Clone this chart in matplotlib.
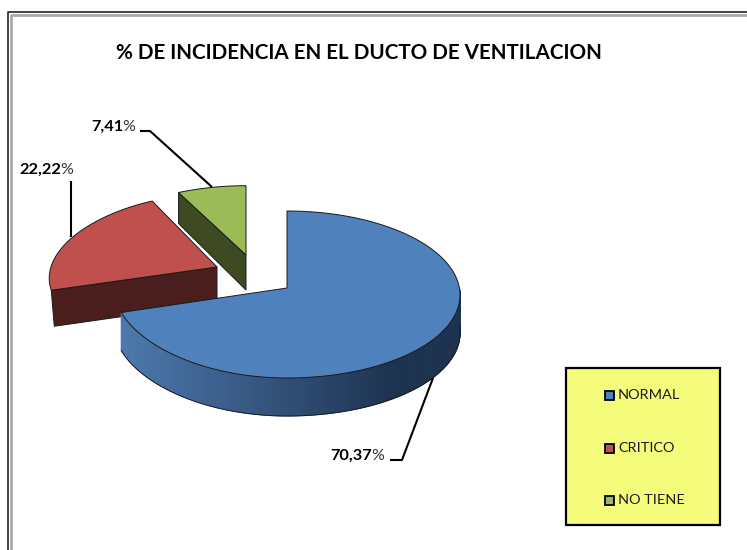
import numpy as np
import matplotlib
matplotlib.use('Agg')
import matplotlib.pyplot as plt
from matplotlib.colors import to_rgb
from matplotlib.patches import Polygon, Rectangle

# Chart data
categories = ['NORMAL', 'CRITICO', 'NO TIENE']
values = [70.37, 22.22, 7.41]
title = '% DE INCIDENCIA EN EL DUCTO DE VENTILACION'

top_colors = ['#4f81bd', '#c0504d', '#9bbb59']
cut_colors = ['#4f81bd', '#4a1e1c', '#3d4a22']

# Pie geometry in pixels
apex = [(287, 288), (217, 267), (246, 255)]
scale_y = [1.0, 0.95, 0.9]
scale_x = [1.0, 1.0, 1.04]
depth = [38, 36, 35]
RX, RY, PERSP = 173, 83.5, 6.5


def rim(theta, i):
    # point on the tilted pie edge, theta clockwise from the top
    c, s = np.cos(theta), np.sin(theta)
    narrow = np.where(s < 0, 1 - 0.14 * np.maximum(c + 0.287, 0), 1.0)
    x = RX * s * narrow * scale_x[i]
    y = (-RY * c + PERSP * c ** 2 + 7 * np.maximum(s, 0) ** 2) * scale_y[i]
    return apex[i][0] + x, apex[i][1] + y


def mix(a, b, t):
    return tuple((1 - t) * np.array(to_rgb(a)) + t * np.array(to_rgb(b)))


fig = plt.figure(figsize=(7.47, 5.5), dpi=100)
ax = fig.add_axes([0, 0, 1, 1])
ax.set_xlim(0, 747)
ax.set_ylim(550, 0)
ax.axis('off')
plt.rcParams['font.family'] = ['Lato', 'DejaVu Sans']

# Window frame
ax.plot([8, 8, 747], [550, 12, 12], color='#222222', lw=1.2, zorder=1)
ax.plot([10.5, 10.5, 747], [550, 14.5, 14.5], color='#aaaaaa', lw=2, zorder=1)

edges = np.cumsum([0] + values) / sum(values) * 2 * np.pi
EDGE = dict(edgecolor='#1a1a1a', linewidth=0.7)

# Slices back to front so the big one overlaps the others
for i in [2, 1, 0]:
    a0, a1 = edges[i], edges[i + 1]
    ax_, ay_ = apex[i]
    z = 5 + (2 - i) * 3
    arc = np.linspace(a0, a1, 200)
    xs, ys = rim(arc, i)

    if i == 0:
        # outer wall with the dark-to-light shading
        th = np.linspace(np.radians(85), a1, 160)
        wx, wy = rim(th, i)
        for k in range(len(th) - 1):
            t = np.clip((wx[k] - 125) / 270, 0, 1)
            col = mix('#4d78ad', '#1d3350', t)
            ax.add_patch(Polygon([(wx[k], wy[k]), (wx[k + 1], wy[k + 1]),
                                  (wx[k + 1], wy[k + 1] + depth[i]), (wx[k], wy[k] + depth[i])],
                                 facecolor=col, edgecolor=col, linewidth=0.8, zorder=z))
        ax.plot(wx, wy + depth[i], color='#1a1a1a', lw=0.6, zorder=z)
    elif i == 1:
        # cut face at the front of the red slice
        ax.add_patch(Polygon([(xs[0], ys[0]), (ax_, ay_), (ax_, ay_ + depth[i]),
                              (xs[0] + 3, ys[0] + depth[i])],
                             facecolor=cut_colors[i], zorder=z, **EDGE))
    else:
        # cut face under the green slice
        ax.add_patch(Polygon([(xs[0], ys[0]), (ax_, ay_), (ax_, ay_ + depth[i]),
                              (xs[0], ys[0] + depth[i] - 4)],
                             facecolor=cut_colors[i], zorder=z, **EDGE))

    ax.add_patch(Polygon(np.r_[[(ax_, ay_)], np.c_[xs, ys]], closed=True,
                         facecolor=top_colors[i], zorder=z + 1, **EDGE))

# Leader lines and value labels
leaders = [([390, 402, 433], [460, 460, 378]),
           ([71, 71], [181, 237]),
           ([140, 150, 212], [131, 131, 187])]
label_end = [(384, 456), (73, 170), (135, 127)]
for i, v in enumerate(values):
    ax.plot(leaders[i][0], leaders[i][1], color='black', lw=1.5, zorder=20, solid_capstyle='butt')
    tx, ty = label_end[i]
    ax.text(tx, ty, '%', ha='right', va='center', fontsize=11.5, color='#333333', zorder=21)
    ax.text(tx - 12, ty, f'{v:.2f}'.replace('.', ','), ha='right', va='center',
            fontsize=11.8, fontweight='bold', color='black', zorder=21)

ax.text(359, 53, title, ha='center', va='center', fontsize=14.85, fontweight='bold', color='black')

# Legend box
ax.add_patch(Rectangle((566, 368), 154, 157, facecolor='#f5fb7a', edgecolor='black', lw=1.6, zorder=3))
legend_y = [395, 448, 500]
for name, col, ly in zip(categories, top_colors, legend_y):
    ax.add_patch(Rectangle((605, ly - 4.5), 9, 9, facecolor=col, edgecolor='black', lw=1.3, zorder=4))
    ax.text(618, ly, name, ha='left', va='center', fontsize=10.4, color='#1a1a1a', zorder=4)

fig.savefig('out.png', dpi=100)
